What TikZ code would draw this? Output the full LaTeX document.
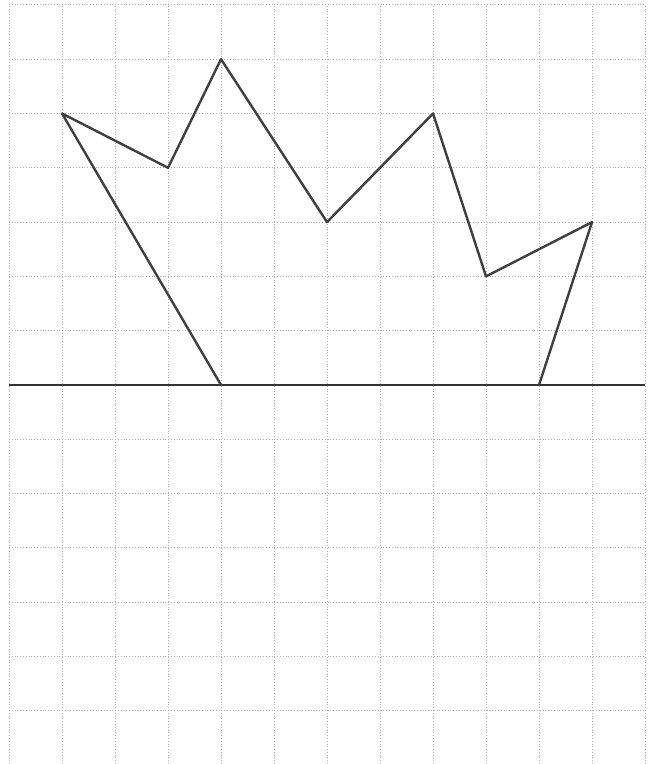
\documentclass[tikz,border=0pt]{standalone}
\begin{document}
\begin{tikzpicture}[x=1cm,y=1.0245cm,
    gridline/.style={gray!60, densely dotted, line width=0.5pt},
    axisline/.style={black!80, line width=1pt},
    figline/.style={black!75, line width=1.3pt, line join=round}]
            \useasboundingbox (-0.17,-6.98) rectangle (12.11,7.09);
            \foreach \i in {0,...,12}
                \draw[gridline] (\i,-6.98) -- (\i,7);
            \foreach \j in {-6,...,7}
                \draw[gridline] (0,\j) -- (12,\j);
            \coordinate (L) at (0,0);
            \coordinate (R) at (12,0);
            \draw[axisline] (L) -- (R);
            \coordinate (A) at (4,0);
            \coordinate (B) at (1,5);
            \coordinate (C) at (3,4);
            \coordinate (D) at (4,6);
            \coordinate (E) at (6,3);
            \coordinate (F) at (8,5);
            \coordinate (G) at (9,2);
            \coordinate (H) at (11,3);
            \coordinate (I) at (10,0);
            \draw[figline] (A) -- (B) -- (C) -- (D) -- (E) -- (F) -- (G) -- (H) -- (I);
        \end{tikzpicture}
\end{document}
